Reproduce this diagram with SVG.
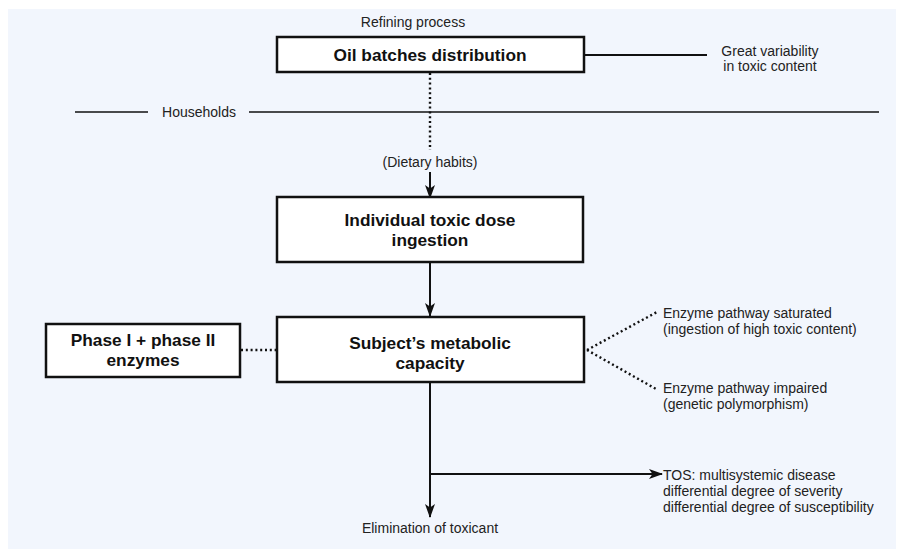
<svg xmlns="http://www.w3.org/2000/svg" width="898" height="550" viewBox="0 0 898 550">
  <style>
    .box { fill: #ffffff; stroke: #111; stroke-width: 2.5; }
    .bt { font-family: "Liberation Sans", Arial, sans-serif; font-weight: bold; font-size: 17.3px; fill: #111; text-anchor: middle; }
    .lt { font-family: "Liberation Sans", Arial, sans-serif; font-size: 14px; fill: #222; }
    .c { text-anchor: middle; }
    .ln { stroke: #111; stroke-width: 2; fill: none; }
    .thin { stroke: #111; stroke-width: 1.3; fill: none; }
    .dot { stroke: #111; stroke-width: 2.4; fill: none; stroke-dasharray: 2 2.8; }
  </style>
  <defs>
    <marker id="arr" viewBox="0 0 14 10" refX="13" refY="5" markerWidth="14" markerHeight="10" markerUnits="userSpaceOnUse" orient="auto">
      <path d="M0,0 L14,5 L0,10 L3.5,5 z" fill="#111"/>
    </marker>
  </defs>
  <rect x="8" y="9" width="888" height="540" fill="#f2f6fd"/>

  <g id="connectors">
    <line class="ln" x1="584" y1="55" x2="707" y2="55"/>
    <line class="thin" x1="75" y1="112" x2="148" y2="112"/>
    <line class="thin" x1="249" y1="112" x2="879" y2="112"/>
    <line class="dot" x1="430" y1="73" x2="430" y2="150"/>
    <line class="ln" x1="430" y1="172" x2="430" y2="198" marker-end="url(#arr)"/>
    <line class="ln" x1="430" y1="262" x2="430" y2="316" marker-end="url(#arr)"/>
    <line class="dot" x1="241" y1="350" x2="276" y2="350"/>
    <line class="dot" x1="587" y1="350" x2="657" y2="312"/>
    <line class="dot" x1="587" y1="350" x2="656" y2="389"/>
    <line class="ln" x1="430" y1="382" x2="430" y2="517" marker-end="url(#arr)"/>
    <line class="ln" x1="430" y1="474" x2="662" y2="474" marker-end="url(#arr)"/>
  </g>

  <g id="refining-label">
    <text class="lt c" x="413" y="27">Refining process</text>
  </g>
  <g id="oil-batches">
    <rect class="box" x="277" y="37" width="307" height="35"/>
    <text class="bt" x="430" y="61">Oil batches distribution</text>
  </g>
  <g id="variability">
    <text class="lt c" x="770" y="56">Great variability</text>
    <text class="lt c" x="770" y="71">in toxic content</text>
  </g>
  <g id="households">
    <text class="lt c" x="199" y="117">Households</text>
  </g>
  <g id="dietary">
    <text class="lt c" x="430" y="167">(Dietary habits)</text>
  </g>
  <g id="ingestion">
    <rect class="box" x="277" y="197" width="306" height="65"/>
    <text class="bt" x="430" y="226">Individual toxic dose</text>
    <text class="bt" x="430" y="246">ingestion</text>
  </g>
  <g id="metabolic">
    <rect class="box" x="277" y="317" width="307" height="65"/>
    <text class="bt" x="430" y="349">Subject’s metabolic</text>
    <text class="bt" x="430" y="369">capacity</text>
  </g>
  <g id="enzymes">
    <rect class="box" x="46" y="324" width="194" height="53"/>
    <text class="bt" x="143" y="346">Phase I + phase II</text>
    <text class="bt" x="143" y="366">enzymes</text>
  </g>
  <g id="saturated">
    <text class="lt" x="663" y="318">Enzyme pathway saturated</text>
    <text class="lt" x="663" y="334">(ingestion of high toxic content)</text>
  </g>
  <g id="impaired">
    <text class="lt" x="663" y="393">Enzyme pathway impaired</text>
    <text class="lt" x="663" y="409">(genetic polymorphism)</text>
  </g>
  <g id="tos">
    <text class="lt" x="663" y="480">TOS: multisystemic disease</text>
    <text class="lt" x="663" y="496">differential degree of severity</text>
    <text class="lt" x="663" y="512">differential degree of susceptibility</text>
  </g>
  <g id="elimination">
    <text class="lt c" x="430" y="533">Elimination of toxicant</text>
  </g>
</svg>
